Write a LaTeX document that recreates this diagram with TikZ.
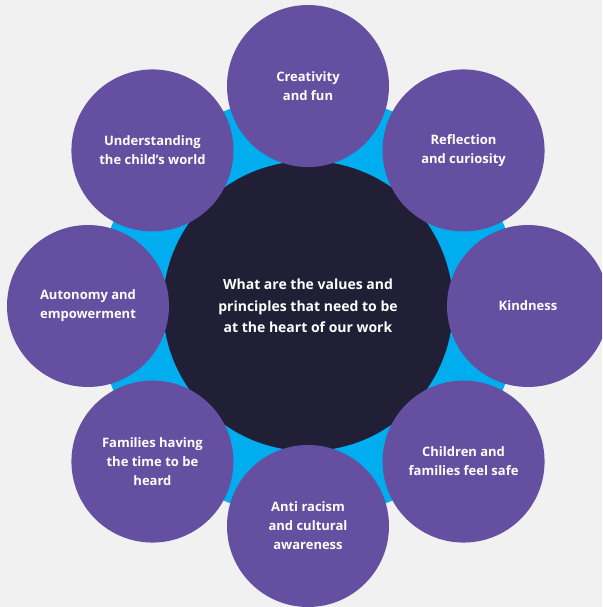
\documentclass[tikz,border=0pt]{standalone}
\usepackage{fontspec}
\setmainfont{Open Sans}
\definecolor{bgGrey}{HTML}{F1F1F1}
\definecolor{ringBlue}{HTML}{00AEEF}
\definecolor{coreNavy}{HTML}{201F35}
\definecolor{valPurple}{HTML}{654FA0}
\tikzset{
  value/.style={circle, fill=valPurple, minimum size=162pt, inner sep=0pt,
    align=center, text=white, font=\bfseries\fontsize{13}{19}\selectfont},
  core/.style={circle, fill=coreNavy, minimum size=290pt, inner sep=0pt,
    align=center, text=white, font=\bfseries\fontsize{14}{21.5}\selectfont}
}
\begin{document}
\begin{tikzpicture}[x=1pt, y=1pt]
            \useasboundingbox (-308, -301) rectangle (294, 306);
            \clip (-308, -301) rectangle (294, 306);
            \fill[bgGrey] (-308, -301) rectangle (294, 306);
            \fill[ringBlue] (0, 0) circle (212);

            \node[core] (core) at (0, 0) {What are the values and\\principles that need to be\\at the heart of our work};

            \foreach \ang/\name/\txt in {
                90/creativity/{Creativity\\and fun},
                45/reflection/{Reflection\\and curiosity},
                0/kindness/{Kindness},
                -45/safe/{Children and\\families feel safe},
                -90/antiracism/{Anti racism\\and cultural\\awareness},
                -135/heard/{Families having\\the time to be\\heard},
                180/autonomy/{Autonomy and\\empowerment},
                135/understanding/{Understanding\\the child’s world}} {
                \node[value] (\name) at (\ang:220) {\txt};
            }
        \end{tikzpicture}
\end{document}
